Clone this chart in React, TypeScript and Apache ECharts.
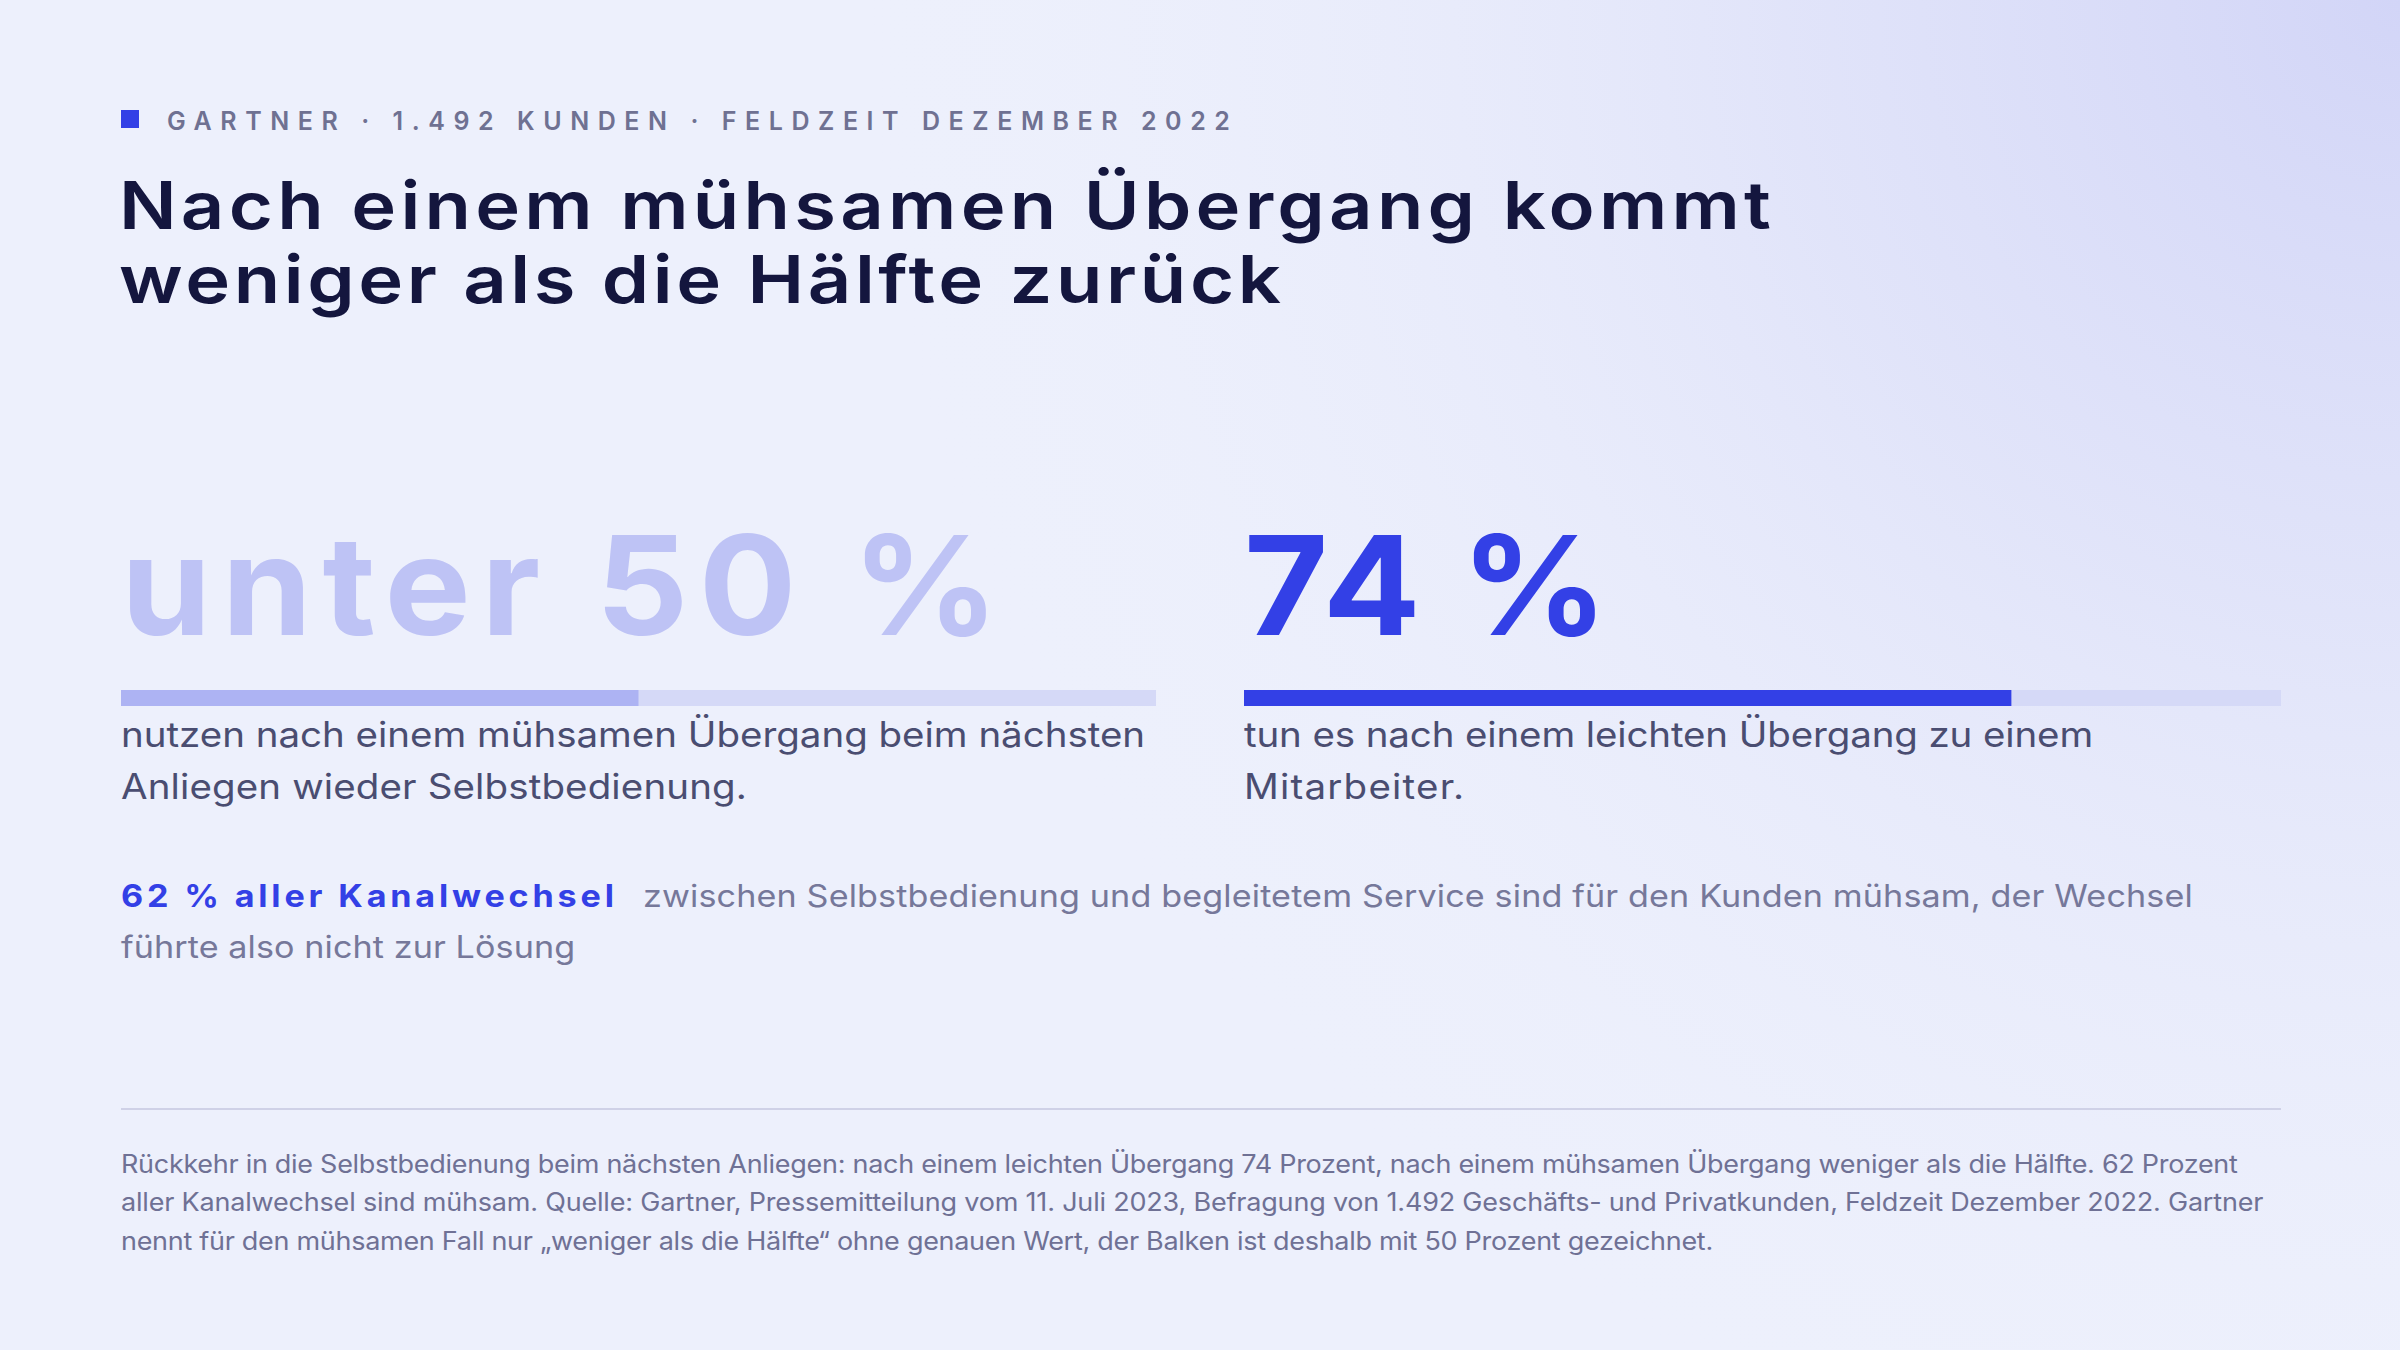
import React, { useEffect, useRef } from "react";
import * as echarts from "echarts";

// ---------- data ----------
const CATEGORIES = ["nach mühsamem Übergang", "nach leichtem Übergang"];
const VALUES = [50, 74];
const AXIS_MAX = 100;
const VALUE_LABELS = ["unter 50 %", "74 %"];
const DESCRIPTIONS = [
  ["nutzen nach einem mühsamen Übergang beim nächsten", "Anliegen wieder Selbstbedienung."],
  ["tun es nach einem leichten Übergang zu einem", "Mitarbeiter."],
];
const KICKER = "GARTNER · 1.492 KUNDEN · FELDZEIT DEZEMBER 2022";
const TITLE_LINES = ["Nach einem mühsamen Übergang kommt", "weniger als die Hälfte zurück"];
const HIGHLIGHT = "62 % aller Kanalwechsel";
const HIGHLIGHT_REST = [
  "zwischen Selbstbedienung und begleitetem Service sind für den Kunden mühsam, der Wechsel",
  "führte also nicht zur Lösung",
];
const FOOTNOTE_LINES = [
  "Rückkehr in die Selbstbedienung beim nächsten Anliegen: nach einem leichten Übergang 74 Prozent, nach einem mühsamen Übergang weniger als die Hälfte. 62 Prozent",
  "aller Kanalwechsel sind mühsam. Quelle: Gartner, Pressemitteilung vom 11. Juli 2023, Befragung von 1.492 Geschäfts- und Privatkunden, Feldzeit Dezember 2022. Gartner",
  "nennt für den mühsamen Fall nur „weniger als die Hälfte“ ohne genauen Wert, der Balken ist deshalb mit 50 Prozent gezeichnet.",
];

// ---------- style ----------
const W = 2400;
const H = 1350;
const FONT = "Inter, 'Noto Sans', sans-serif";
const BLUE = "#3340E6";
const LIGHT_BIG = "#BEC3F5";
const LIGHT_BAR = "#ADB3F3";
const TRACK = "#D5D9F7";
const TITLE_C = "#14163E";
const KICKER_C = "#6F7192";
const DESC_C = "#4A4D71";
const GRAY_C = "#76789A";
const FOOT_C = "#6F7195";
const LEFT = 121;
const COL2 = 1244;

// layout fitting: [text line, target width on screen, horizontal glyph stretch]
const FIT: [string, number, number][] = [
  [KICKER, 1063, 1],
  [TITLE_LINES[0], 1652, 1.15],
  [TITLE_LINES[1], 1162, 1.15],
  [VALUE_LABELS[0], 878, 1.05],
  [VALUE_LABELS[1], 364, 1.05],
  [DESCRIPTIONS[0][0], 1024, 1.1],
  [DESCRIPTIONS[0][1], 626, 1.1],
  [DESCRIPTIONS[1][0], 849, 1.1],
  [DESCRIPTIONS[1][1], 220, 1.1],
  [HIGHLIGHT, 493, 1.1],
  [HIGHLIGHT_REST[0], 1550, 1.1],
  [HIGHLIGHT_REST[1], 454, 1.1],
  [FOOTNOTE_LINES[0], 2116, 1.08],
  [FOOTNOTE_LINES[1], 2142, 1.08],
  [FOOTNOTE_LINES[2], 1592, 1.08],
];
const FIT_MAP = new Map<string, [number, number]>(FIT.map((f) => [f[0], [f[1], f[2]]]));

function txt(text: string, x: number, baseline: number, size: number, weight: number, color: string) {
  const f = FIT_MAP.get(text);
  const sx = f ? f[1] : 1;
  return {
    type: "text",
    x,
    y: baseline - 0.363 * size,
    scaleX: sx,
    silent: true,
    style: {
      text,
      font: `${weight} ${size}px ${FONT}`,
      fill: color,
      align: "left",
      verticalAlign: "middle",
    },
  };
}

function fitTexts(root: HTMLElement) {
  const texts = Array.from(root.querySelectorAll("text")) as SVGTextElement[];
  for (const t of texts) {
    const content = t.textContent || "";
    const f = FIT_MAP.get(content);
    if (!f) continue;
    const [target, sx] = f;
    t.style.letterSpacing = "0px";
    const L0 = t.getComputedTextLength();
    const n = Array.from(content).length;
    if (n < 2 || !L0) continue;
    const ls = (target / sx - L0) / (n - 1);
    t.style.letterSpacing = ls.toFixed(2) + "px";
  }
}

export default function App() {
  const ref = useRef<HTMLDivElement>(null);
  useEffect(() => {
    const el = ref.current!;
    const chart = echarts.init(el, undefined, { renderer: "svg", width: W, height: H });

    const graphics: any[] = [
      {
        type: "rect",
        silent: true,
        z: -10,
        shape: { x: 0, y: 0, width: W, height: H },
        style: {
          fill: {
            type: "radial",
            x: W,
            y: 0,
            r: 1550,
            global: true,
            colorStops: [
              { offset: 0, color: "rgba(210,213,247,1)" },
              { offset: 0.4, color: "rgba(223,226,249,0.85)" },
              { offset: 1, color: "rgba(237,240,252,0)" },
            ],
          },
        },
      },
      { type: "rect", silent: true, shape: { x: LEFT, y: 110, width: 18, height: 18 }, style: { fill: BLUE } },
      txt(KICKER, 167, 130, 25, 600, KICKER_C),
      txt(TITLE_LINES[0], LEFT - 2, 229, 66, 600, TITLE_C),
      txt(TITLE_LINES[1], LEFT - 2, 303, 66, 600, TITLE_C),
      txt(VALUE_LABELS[0], LEFT, 635, 138, 700, LIGHT_BIG),
      txt(VALUE_LABELS[1], COL2, 635, 138, 700, BLUE),
      txt(DESCRIPTIONS[0][0], LEFT, 747, 35, 400, DESC_C),
      txt(DESCRIPTIONS[0][1], LEFT, 799, 35, 400, DESC_C),
      txt(DESCRIPTIONS[1][0], COL2, 747, 35, 400, DESC_C),
      txt(DESCRIPTIONS[1][1], COL2, 799, 35, 400, DESC_C),
      txt(HIGHLIGHT, LEFT, 907, 31, 700, BLUE),
      txt(HIGHLIGHT_REST[0], 643, 907, 31, 400, GRAY_C),
      txt(HIGHLIGHT_REST[1], LEFT, 958, 31, 400, GRAY_C),
      {
        type: "line",
        silent: true,
        shape: { x1: LEFT, y1: 1109, x2: 2281, y2: 1109 },
        style: { stroke: "#CFD1E7", lineWidth: 2 },
      },
      txt(FOOTNOTE_LINES[0], LEFT, 1173, 25, 400, FOOT_C),
      txt(FOOTNOTE_LINES[1], LEFT, 1211, 25, 400, FOOT_C),
      txt(FOOTNOTE_LINES[2], LEFT, 1250, 25, 400, FOOT_C),
    ];

    const grids = [
      { left: LEFT, top: 690, width: 1035, height: 16 },
      { left: COL2, top: 690, width: 1037, height: 16 },
    ];

    chart.setOption({
      animation: false,
      backgroundColor: "#EDF0FC",
      grid: grids,
      xAxis: grids.map((_, i) => ({ type: "value", gridIndex: i, min: 0, max: AXIS_MAX, show: false })),
      yAxis: grids.map((_, i) => ({ type: "category", gridIndex: i, data: [CATEGORIES[i]], show: false })),
      series: VALUES.map((v, i) => ({
        type: "bar",
        name: CATEGORIES[i],
        xAxisIndex: i,
        yAxisIndex: i,
        data: [v],
        barWidth: 16,
        silent: true,
        showBackground: true,
        backgroundStyle: { color: TRACK },
        itemStyle: { color: i === 0 ? LIGHT_BAR : BLUE },
      })),
      graphic: graphics,
    });

    const doFit = () => fitTexts(el);
    doFit();
    const raf = requestAnimationFrame(doFit);
    const to = setTimeout(doFit, 60);
    chart.on("finished", doFit);
    (document as any).fonts?.ready?.then(doFit);

    return () => {
      cancelAnimationFrame(raf);
      clearTimeout(to);
      chart.dispose();
    };
  }, []);

  return (
    <div
      ref={ref}
      style={{ position: "fixed", left: 0, top: 0, width: W, height: H }}
    />
  );
}
